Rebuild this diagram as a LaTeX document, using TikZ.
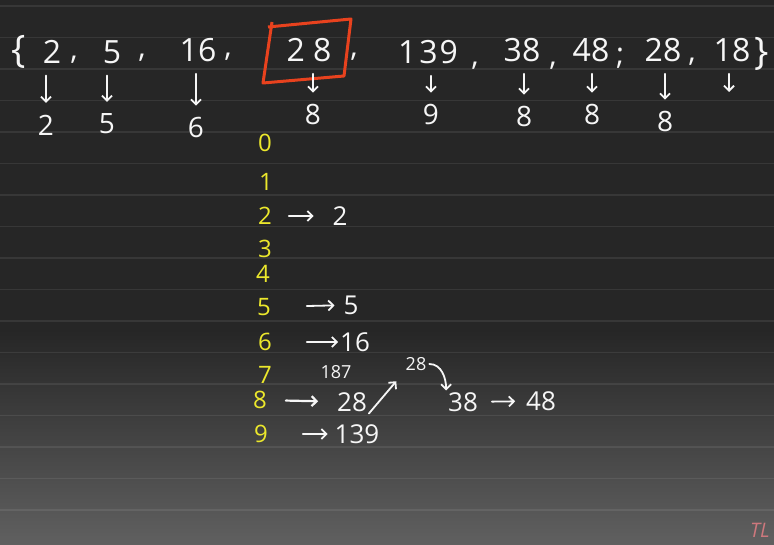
\documentclass[tikz,border=0pt]{standalone}
\usepackage{fontspec}
\setmainfont{Open Sans}
\usetikzlibrary{arrows.meta, positioning}
\definecolor{cBoard}{RGB}{38,38,38}
\definecolor{cBoardLow}{RGB}{96,96,96}
\definecolor{cChalk}{RGB}{246,246,246}
\definecolor{cYellow}{RGB}{236,232,44}
\definecolor{cBox}{RGB}{232,66,30}
\definecolor{cMark}{RGB}{205,120,125}
\tikzset{
	key/.style   ={inner sep=0pt, outer sep=12pt, text=cChalk, font=\fontsize{32}{32}\selectfont},
	dig/.style   ={inner sep=0pt, outer sep=12pt, text=cChalk, font=\fontsize{28}{28}\selectfont},
	punct/.style ={inner sep=0pt, text=cChalk, font=\fontsize{30}{30}\selectfont},
	brace/.style ={inner sep=0pt, text=cChalk, font=\fontsize{38}{38}\selectfont},
	% bucket column and its lists
	bucket/.style={inner sep=0pt, outer sep=2pt, text=cYellow, font=\fontsize{24}{24}\selectfont},
	item/.style  ={inner sep=0pt, outer sep=2pt, text=cChalk, font=\fontsize{26}{26}\selectfont},
	note/.style  ={inner sep=0pt, outer sep=3pt, text=cChalk, font=\fontsize{18}{18}\selectfont},
	chalk/.style ={-{Straight Barb[length=5pt, width=10pt]}, line width=1.8pt, cChalk, line cap=round},
	rule/.style  ={line width=1.2pt, white, opacity=0.08},
}

\begin{document}
\begin{tikzpicture}[x=1pt, y=-1pt]
	\useasboundingbox (0,0) rectangle (774,545);
	\fill[cBoard] (0,0) rectangle (774,545);
	\shade[top color=cBoard, bottom color=cBoardLow] (0,330) rectangle (774,545);
	\foreach \k in {0,...,16}
		\draw[rule] (0,{6+31.5*\k}) -- (774,{6+31.5*\k});

	% the list
	\node[brace] (lb) at (19,52) {\{};
	\node[key] (n2) at (52,52) {2};
	\node[punct] (c1) at (74,60) {,};
	\node[key] (n5) at (112,52) {5};
	\node[punct] (c2) at (142,58) {,};
	\node[key] (n16) at (198,50) {16};
	\node[punct] (c3) at (228,57) {,};
	\node[key] (n28a) at (309,50) {2\hspace{8pt}8};
	\node[punct] (c4) at (354,57) {,};
	\node[key] (n139) at (428,52) {1\hspace{3pt}3\hspace{2pt}9};
	\node[punct] (c5) at (475,66) {,};
	\node[key] (n38) at (522,50) {38};
	\node[punct] (c6) at (553,66) {,};
	\node[key] (n48) at (591,50) {48};
	\node[punct] (c7) at (620,58) {;};
	\node[key] (n28b) at (663,50) {28};
	\node[punct] (c8) at (692,62) {,};
	\node[key] (n18) at (732,50) {18};
	\node[brace] (rb) at (762,54) {\}};
	\draw[cBox, line width=3pt, line join=round] (268,27) -- (351,19) -- (344,76) -- (263,83) -- (272,22);

	% last digits
	\node[dig] (d2) at (46,125) {2};
	\node[dig] (d5) at (107,124) {5};
	\node[dig] (d16) at (196,128) {6};
	\node[dig] (d28a) at (313,115) {8};
	\node[dig] (d139) at (431,115) {9};
	\node[dig] (d38) at (524,117) {8};
	\node[dig] (d48) at (592,115) {8};
	\node[dig] (d28b) at (665,122) {8};
	\coordinate (e18) at (729,92);
	\foreach \a/\b in {n2/d2, n5/d5, n16/d16, n28a/d28a, n139/d139, n38/d38, n48/d48, n28b/d28b}
		\draw[chalk] (\b |- \a.south) -- (\b.north);
	\draw[chalk] (e18 |- n18.south) -- (e18);

	% buckets
	\foreach \i/\y/\x in {0/143/265, 1/182/266, 2/216/265, 3/249/265, 4/274/263, 5/307/264, 6/342/265, 7/375/265, 8/400/260, 9/434/261}
		\node[bucket] (b\i) at (\x,\y) {\i};
	\node[item] (i2) at (340,216) {2};
	\node[item] (i5) at (351,305) {5};
	\node[item] (i16) at (355,342) {16};
	\node[item] (i28) at (352,402) {28};
	\node[note] (s18) at (336,372) {187};
	\node[note] (s28) at (416,364) {28};
	\node[item] (i38) at (463,402) {38};
	\node[item] (i48) at (541,401) {48};
	\node[item] (i139) at (357,434) {139};
	\draw[chalk, shorten <=15pt, shorten >=17pt] (b2) -- (i2);
	\draw[chalk, shorten <=34pt, shorten >=7pt] (b5) -- (i5);
	\draw[chalk, shorten <=33pt] (b6) -- (i16);
	\draw[chalk, line width=2.2pt, shorten <=17pt, shorten >=17pt] (b8) -- (i28);
	\draw[chalk, shorten <=33pt, shorten >=5pt] (b9) -- (i139);
	\draw[chalk, shorten >=10pt] (i28.south east) -- (s28.south west);
	\draw[chalk] (s28.east) to[out=0, in=90] (i38.north west);
	\draw[chalk, shorten <=12pt, shorten >=9pt] (i38) -- (i48);

	\node[text=cMark, font=\fontsize{20}{20}\selectfont\itshape, anchor=east, inner sep=0pt] (wm) at (770,530) {TL};
\end{tikzpicture}
\end{document}
